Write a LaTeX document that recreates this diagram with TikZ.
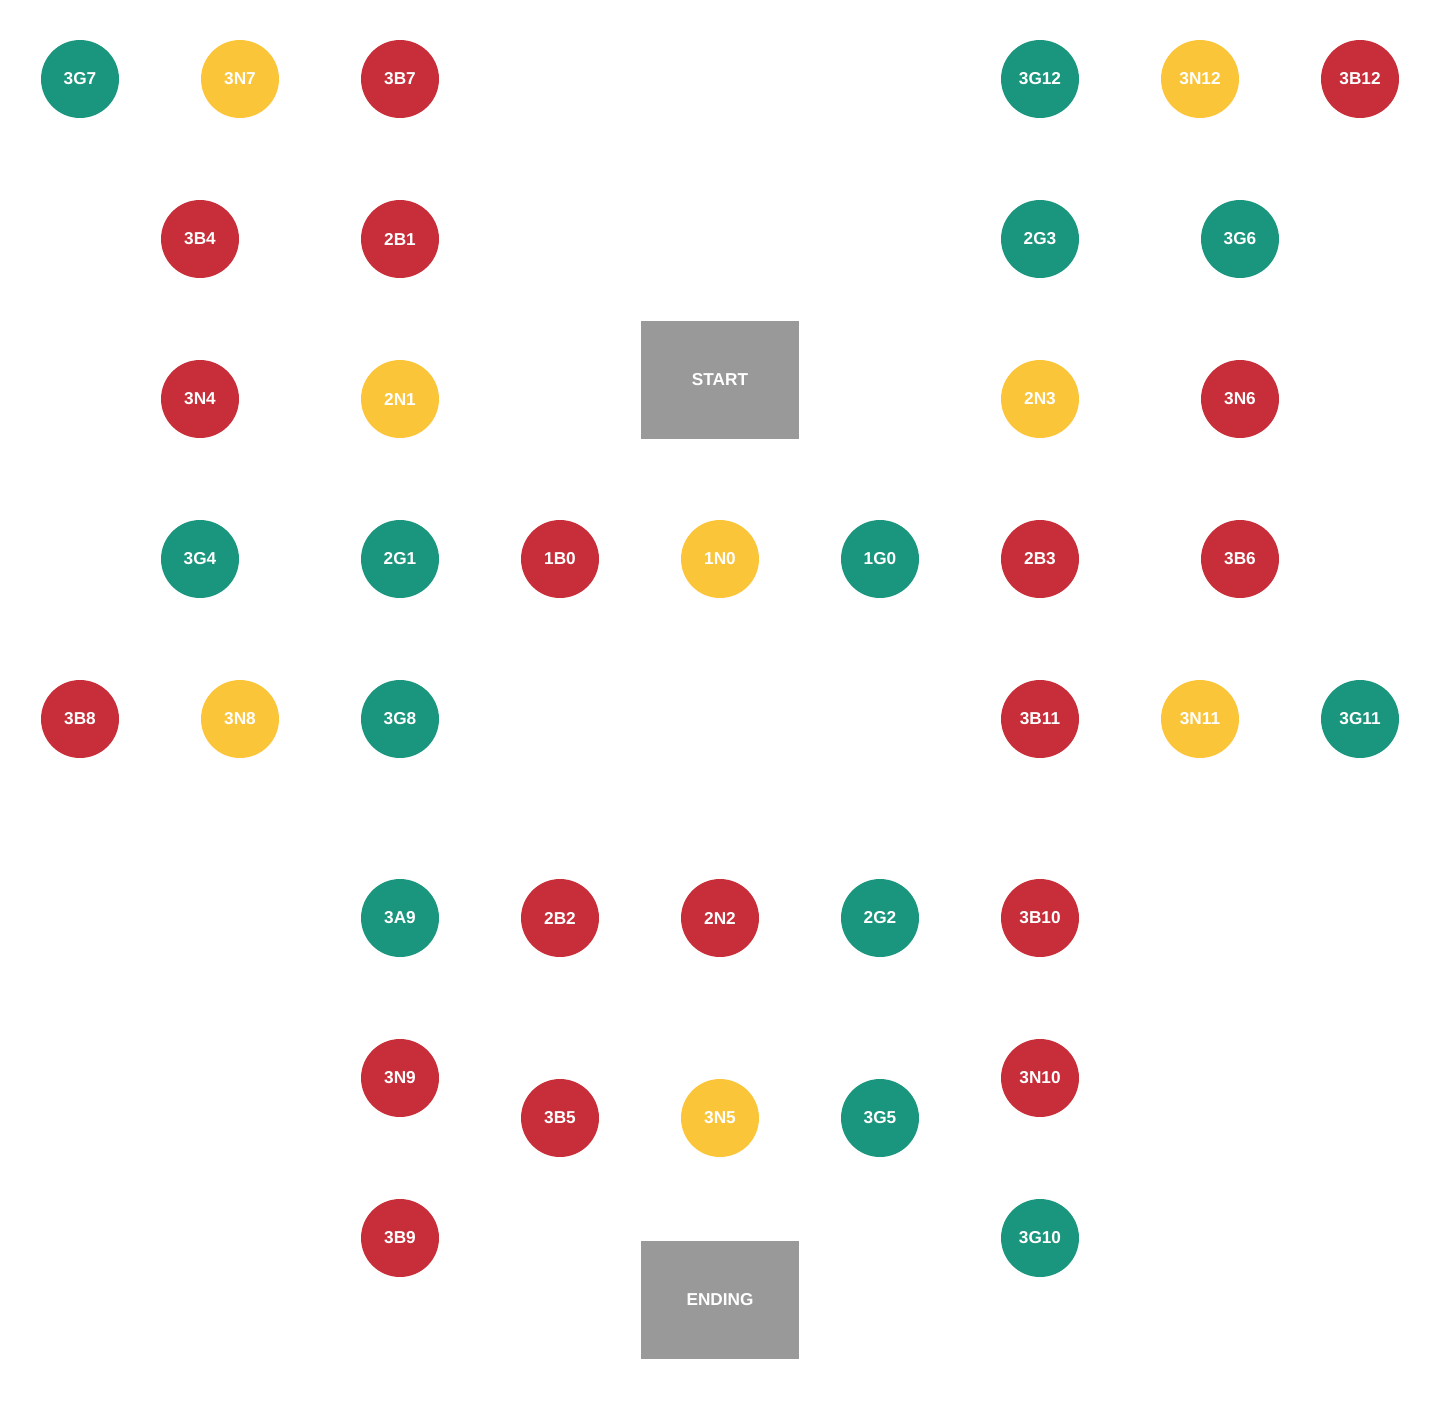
\documentclass[tikz,border=0pt]{standalone}
\usepackage{fontspec}
\setmainfont{Liberation Sans}
\definecolor{gcol}{RGB}{27,150,126}
\definecolor{ncol}{RGB}{251,197,58}
\definecolor{bcol}{RGB}{200,45,58}
\definecolor{scol}{RGB}{153,153,153}
\tikzset{
  ball/.style={circle, minimum size=1.56cm, inner sep=0pt, text=white,
    font=\fontsize{9.8}{11}\selectfont\bfseries},
  gball/.style={ball, fill=gcol},
  nball/.style={ball, fill=ncol},
  bball/.style={ball, fill=bcol},
  endbox/.style={rectangle, fill=scol, minimum width=3.16cm, minimum height=2.36cm,
    inner sep=0pt, text=white, font=\fontsize{9.8}{11}\selectfont\bfseries}
}
\begin{document}
\begin{tikzpicture}[x=0.02cm, y=-0.02cm]
\useasboundingbox (0,0) rectangle (1440,1400);

\node[endbox] (start) at (720,380) {START};
\node[endbox] (ending) at (720,1300) {ENDING};

% first ring
\node[bball] (1B0) at (560,559) {1B0};
\node[nball] (1N0) at (720,559) {1N0};
\node[gball] (1G0) at (880,559) {1G0};

% second ring
\node[bball] (2B1) at (400,239) {2B1};
\node[nball] (2N1) at (400,399) {2N1};
\node[gball] (2G1) at (400,559) {2G1};
\node[bball] (2B2) at (560,918) {2B2};
\node[bball] (2N2) at (720,918) {2N2};
\node[gball] (2G2) at (880,918) {2G2};
\node[gball] (2G3) at (1040,239) {2G3};
\node[nball] (2N3) at (1040,399) {2N3};
\node[bball] (2B3) at (1040,559) {2B3};

% third ring, left
\node[gball] (3G7) at (80,79) {3G7};
\node[nball] (3N7) at (240,79) {3N7};
\node[bball] (3B7) at (400,79) {3B7};
\node[bball] (3B4) at (200,239) {3B4};
\node[bball] (3N4) at (200,399) {3N4};
\node[gball] (3G4) at (200,559) {3G4};
\node[bball] (3B8) at (80,719) {3B8};
\node[nball] (3N8) at (240,719) {3N8};
\node[gball] (3G8) at (400,719) {3G8};

% third ring, right
\node[gball] (3G12) at (1040,79) {3G12};
\node[nball] (3N12) at (1200,79) {3N12};
\node[bball] (3B12) at (1360,79) {3B12};
\node[gball] (3G6) at (1240,239) {3G6};
\node[bball] (3N6) at (1240,399) {3N6};
\node[bball] (3B6) at (1240,559) {3B6};
\node[bball] (3B11) at (1040,719) {3B11};
\node[nball] (3N11) at (1200,719) {3N11};
\node[gball] (3G11) at (1360,719) {3G11};

% third ring, bottom
\node[gball] (3A9) at (400,918) {3A9};
\node[bball] (3N9) at (400,1078) {3N9};
\node[bball] (3B9) at (400,1238) {3B9};
\node[bball] (3B5) at (560,1118) {3B5};
\node[nball] (3N5) at (720,1118) {3N5};
\node[gball] (3G5) at (880,1118) {3G5};
\node[bball] (3B10) at (1040,918) {3B10};
\node[bball] (3N10) at (1040,1078) {3N10};
\node[gball] (3G10) at (1040,1238) {3G10};
\end{tikzpicture}
\end{document}
